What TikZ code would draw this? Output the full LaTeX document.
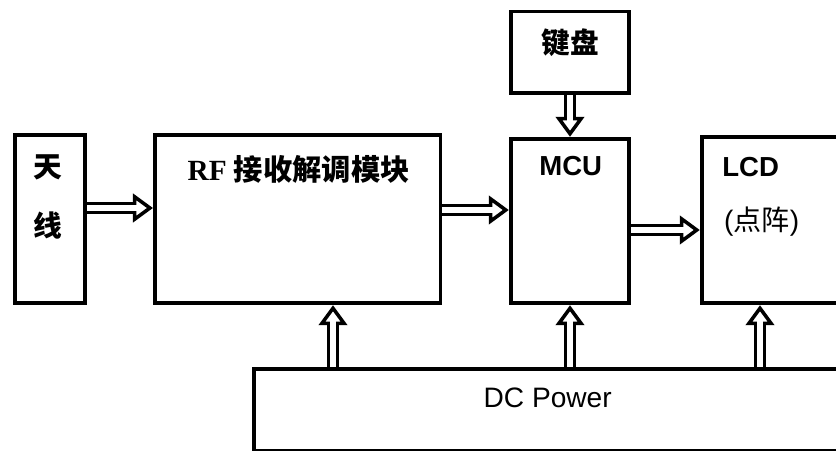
\documentclass[tikz,border=0pt]{standalone}
\usepackage{fontspec}
\setmainfont{Liberation Serif}
\setsansfont{Liberation Sans}
\newfontfamily\cjk{Noto Sans CJK SC}
\usetikzlibrary{arrows.meta, positioning}

\begin{document}
\begin{tikzpicture}[
    block/.style={draw, rectangle, line width=3.2pt, inner sep=0pt},
    lbl/.style={inner sep=0pt, font=\fontsize{23}{28}\selectfont\sffamily},
    boldlbl/.style={inner sep=0pt, font=\fontsize{23.5}{28}\selectfont\sffamily\bfseries},
    cjklbl/.style={inner sep=0pt, font=\fontsize{24.5}{29}\selectfont\cjk\bfseries},
    dbl/.style={double, line width=3pt, double distance=4.6pt,
        -{Triangle[open, fill=white, length=0.6cm, width=0.85cm, line width=3pt]},
        postaction={draw=white, line width=4.6pt, -, shorten >=0.36cm}}
]
    \useasboundingbox (0,0) rectangle (25.08,13.5);
    \clip (0,0) rectangle (25.08,13.5);

    % Blocks
    \node[block, minimum width=2.12cm, minimum height=5.06cm] (ant) at (1.50,6.93) {};
    \node[block, minimum width=8.57cm, minimum height=5.06cm] (rf) at (8.93,6.93) {};
    \node[block, minimum width=3.56cm, minimum height=4.94cm] (mcu) at (17.10,6.87) {};
    \node[block, minimum width=3.56cm, minimum height=2.45cm] (kbd) at (17.10,11.93) {};
    \node[block, minimum width=5.00cm, minimum height=5.00cm] (lcd) at (23.55,6.90) {};
    \node[block, minimum width=18.39cm, minimum height=2.47cm] (dc) at (16.81,1.205) {};

    % Labels
    \node[cjklbl, align=center] (antlbl) at (1.44,7.58) {天\\[0.75cm]线};
    \node[lbl] (rflbl) at (8.96,8.43) {\fontsize{25}{29}\selectfont\rmfamily\bfseries RF {\cjk\bfseries 接收解调模块}};
    \node[boldlbl] (mculbl) at (17.12,8.53) {MCU};
    \node[cjklbl] (kbdlbl) at (17.10,12.21) {键盘};
    \node[boldlbl] (lcdlbl) at (22.52,8.49) {LCD};
    \node[lbl] (dotlbl) at (22.85,6.84) {\fontsize{24}{28}\selectfont(\cjk 点阵\sffamily)};
    \node[lbl] (dclbl) at (16.43,1.56) {\fontsize{24}{28}\selectfont DC Power};

    % Signal flow
    \draw[dbl] ([yshift=0.33cm]ant.east) -- ([yshift=0.33cm]ant.east -| rf.west);
    \draw[dbl] ([yshift=0.27cm]rf.east) -- ([yshift=0.27cm]rf.east -| mcu.west);
    \draw[dbl] ([yshift=-0.27cm]mcu.east) -- ([yshift=-0.27cm]mcu.east -| lcd.west);
    \draw[dbl] (kbd) -- (mcu);

    % Power
    \draw[dbl] ([xshift=1.06cm]rf.south |- dc.north) -- ([xshift=1.06cm]rf.south);
    \draw[dbl] (mcu.south |- dc.north) -- (mcu.south);
    \draw[dbl] ([xshift=-0.75cm]lcd.south |- dc.north) -- ([xshift=-0.75cm]lcd.south);

\end{tikzpicture}
\end{document}
